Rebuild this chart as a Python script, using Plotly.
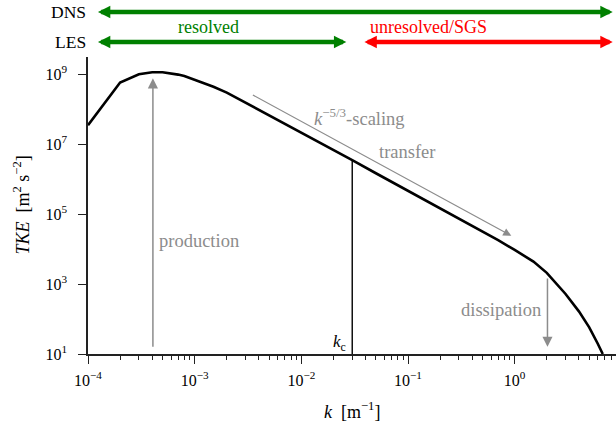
import numpy as np
import plotly.graph_objects as go

# Model turbulent kinetic energy spectrum
k = [1e-4, 2e-4, 3e-4, 4e-4, 5e-4, 6e-4, 7e-4, 8e-4, 1e-3, 1.5e-3, 2e-3, 3e-3,
     4e-3, 5e-3, 7e-3, 1e-2, 2e-2, 3e-2, 5e-2, 0.1, 0.2, 0.4, 0.7, 1.0, 1.5,
     2.0, 3.0, 4.0, 5.0, 6.0, 6.7]
tke = [3.5e7, 5.8e8, 1.0e9, 1.15e9, 1.15e9, 1.07e9, 9.8e8, 8.9e8, 6.9e8, 4.4e8,
       3.0e8, 1.55e8, 9.5e7, 6.8e7, 3.8e7, 2.14e7, 6.8e6, 3.5e6, 1.48e6, 4.7e5,
       1.48e5, 4.7e4, 1.8e4, 9.5e3, 4.4e3, 2.1e3, 5.2e2, 1.66e2, 58, 20, 10]

# LES filter cut-off wavenumber
k_c = 0.03

y_tickvals = [1e1, 1e3, 1e5, 1e7, 1e9]
y_ticktext = ["10<sup>1</sup>", "10<sup>3</sup>", "10<sup>5</sup>",
              "10<sup>7</sup>", "10<sup>9</sup>"]
x_tickvals = [1e-4, 1e-3, 1e-2, 1e-1, 1e0]
x_ticktext = ["10<sup>−4</sup>", "10<sup>−3</sup>", "10<sup>−2</sup>",
              "10<sup>−1</sup>", "10<sup>0</sup>"]
x_minor = [m * 10.0 ** e for e in range(-4, 1) for m in range(2, 10)]

FONT = "Liberation Serif"
GRAY = "#8c8c8c"
GREEN = "#008000"
RED = "#ff0000"
lg = np.log10

fig = go.Figure()

fig.add_trace(go.Scatter(x=k, y=tke, mode="lines",
                         line=dict(color="black", width=2.6),
                         showlegend=False, hoverinfo="skip"))

tke_c = tke[k.index(k_c)]
fig.add_trace(go.Scatter(x=[k_c, k_c], y=[y_tickvals[0], tke_c], mode="lines",
                         line=dict(color="black", width=1.4),
                         showlegend=False, hoverinfo="skip"))

ann = []


def text(x, y, s, color=GRAY, size=18.5, xanchor="center", xref="x", yref="y"):
    ann.append(dict(x=x, y=y, xref=xref, yref=yref, text=s, showarrow=False,
                    xanchor=xanchor, yanchor="middle",
                    font=dict(family=FONT, size=size, color=color)))


def arrow(x0, y0, x1, y1, color=GRAY, width=1.5, size=1.35):
    ann.append(dict(x=lg(x1), y=lg(y1), ax=lg(x0), ay=lg(y0),
                    xref="x", yref="y", axref="x", ayref="y", text="",
                    showarrow=True, arrowhead=2, arrowsize=size,
                    arrowwidth=width, arrowcolor=color))


def band(x0, x1, y, color):
    ann.append(dict(x=lg(x1), y=y, ax=lg(x0), ay=0, xref="x", yref="paper",
                    axref="x", ayref="pixel", text="", showarrow=True,
                    arrowside="end+start", arrowhead=2, startarrowhead=2,
                    arrowsize=0.55, startarrowsize=0.55, arrowwidth=4.5,
                    arrowcolor=color))


# energy cascade: production, transfer, dissipation
arrow(4.06e-4, 14.5, 4.06e-4, 7.7e8)
arrow(3.4e-3, 2.7e8, 0.93, 2.4e4, width=1.2)
arrow(2.03, 1.6e3, 2.03, 16)
text(lg(4.4e-4), 4.24, "production", xanchor="left")
text(-1.453, 7.79, "<i>k</i><sup>−5/3</sup>-scaling")
text(-1.004, 6.79, "transfer")
text(0.262, 2.26, "dissipation", xanchor="right")
text(-1.562, 1.31, "<i>k</i><sub>c</sub>", color="black", size=17,
     xanchor="right")

# resolved / modelled ranges of DNS and LES
band(1.2e-4, 8.3, 1.1515, GREEN)
band(1.2e-4, 0.0264, 1.0505, GREEN)
band(0.0378, 8.3, 1.0505, RED)
text(0, 1.1515, "DNS", color="black", size=17.5, xanchor="right",
     xref="paper", yref="paper")
text(0, 1.0505, "LES", color="black", size=17.5, xanchor="right",
     xref="paper", yref="paper")
text(lg(1.35e-3), 1.101, "resolved", color=GREEN, size=18, yref="paper")
text(lg(0.156), 1.101, "unresolved/SGS", color=RED, size=18, yref="paper")

# axis titles
text(0.5, -0.189, "<i>k</i>  [m<sup>−1</sup>]", color="black", size=18,
     xref="paper", yref="paper")
ann.append(dict(x=-0.125, y=0.5, xref="paper", yref="paper",
                text="<i>TKE</i>  [m<sup>2</sup> s<sup>−2</sup>]",
                showarrow=False, textangle=-90, xanchor="center",
                yanchor="middle", font=dict(family=FONT, size=18, color="black")))

fig.update_layout(
    width=616, height=430,
    margin=dict(l=88, r=0, t=57, b=76),
    paper_bgcolor="white", plot_bgcolor="white",
    font=dict(family=FONT, size=16, color="black"),
    annotations=ann,
    xaxis=dict(type="log", range=[-4, 0.95], showgrid=False, zeroline=False,
               showline=True, linecolor="#222", linewidth=1.6,
               ticks="outside", ticklen=8, tickwidth=1.2, tickcolor="#222",
               tickvals=x_tickvals, ticktext=x_ticktext, ticklabelstandoff=3,
               tickfont=dict(family=FONT, size=16),
               minor=dict(ticks="outside", ticklen=4.5, tickwidth=1,
                          tickcolor="#222", showgrid=False,
                          tickvals=x_minor)),
    yaxis=dict(type="log", range=[1, 9.495], showgrid=False, zeroline=False,
               showline=True, linecolor="#222", linewidth=1.6,
               ticks="outside", ticklen=8, tickwidth=1.2, tickcolor="#222",
               tickvals=y_tickvals, ticktext=y_ticktext, ticklabelstandoff=8,
               tickfont=dict(family=FONT, size=16)),
)

fig.write_html("out.html")
